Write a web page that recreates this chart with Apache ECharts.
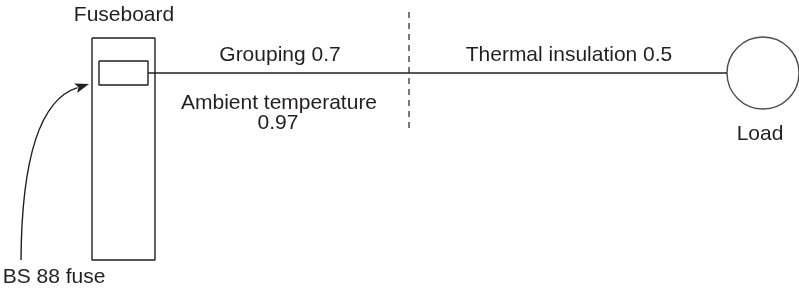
<!DOCTYPE html>
<html>
<head>
<meta charset="utf-8">
<script src="https://cdn.jsdelivr.net/npm/echarts@6/dist/echarts.min.js"></script>
<style>
  html, body { margin: 0; padding: 0; background: #fff; }
  #main { width: 799px; height: 290px; }
</style>
</head>
<body>
<div id="main"></div>
<script>
// diagram geometry, in page units (x right, y down)
var boardOutline = [[92, 38], [155, 38], [155, 260], [92, 260], [92, 38]];
var fuseOutline = [[99, 61], [148, 61], [148, 85], [99, 85], [99, 61]];
var cableLine = [[148, 73], [727, 73]];
var dividerLine = [[409, 12], [409, 133]];
var loadCentre = [[763, 73]];
var loadDiameter = 72;
var arrowCurve = [[21, 260], [22, 105], [89, 84]]; // start, control, tip

var labelTexts = ['Fuseboard', 'Grouping 0.7', 'Ambient temperature', '0.97',
    'Thermal insulation 0.5', 'Load', 'BS 88 fuse'];
var labelPos = [[124, 15], [280, 55], [279, 103], [278, 123], [569, 55], [760, 134], [54, 277]];

var ink = '#231f20';

build();

function build() {
    var myChart = echarts.init(document.getElementById('main'));

    var option = {
        animation: false,
        grid: { left: 0, right: 0, top: 0, bottom: 0 },
        xAxis: { type: 'value', min: 0, max: 799, show: false },
        yAxis: { type: 'value', min: 0, max: 290, inverse: true, show: false },
        series: [
            {
                type: 'line', data: boardOutline, symbol: 'none',
                lineStyle: { color: ink, width: 1.4 }
            },
            {
                type: 'line', data: fuseOutline, symbol: 'none',
                lineStyle: { color: ink, width: 1.4 }
            },
            {
                type: 'line', data: cableLine, symbol: 'none',
                lineStyle: { color: ink, width: 1.4 }
            },
            {
                type: 'line', data: dividerLine, symbol: 'none',
                lineStyle: { color: ink, width: 1.2, type: [6, 5] }
            },
            {
                type: 'scatter', data: loadCentre, symbol: 'circle', symbolSize: loadDiameter,
                itemStyle: { color: 'rgba(0,0,0,0)', borderColor: ink, borderWidth: 1.4 }
            },
            {
                // curved pointer from the fuse label to the board
                type: 'custom',
                data: [0],
                renderItem: function (params, api) {
                    var p0 = api.coord(arrowCurve[0]);
                    var c = api.coord(arrowCurve[1]);
                    var p1 = api.coord(arrowCurve[2]);
                    var dx = p1[0] - c[0], dy = p1[1] - c[1];
                    var len = Math.sqrt(dx * dx + dy * dy);
                    var ux = dx / len, uy = dy / len;
                    var hl = 14, hw = 5;
                    var bx = p1[0] - ux * hl, by = p1[1] - uy * hl;
                    return {
                        type: 'group',
                        children: [
                            {
                                type: 'bezierCurve',
                                shape: { x1: p0[0], y1: p0[1], cpx1: c[0], cpy1: c[1], x2: bx + ux * 2, y2: by + uy * 2 },
                                style: { stroke: ink, lineWidth: 1.4, fill: null }
                            },
                            {
                                type: 'polygon',
                                shape: { points: [p1, [bx - uy * hw, by + ux * hw], [bx + ux * 3, by + uy * 3], [bx + uy * hw, by - ux * hw]] },
                                style: { fill: ink }
                            }
                        ]
                    };
                }
            },
            {
                type: 'custom',
                data: labelPos,
                renderItem: function (params, api) {
                    var p = api.coord([api.value(0), api.value(1)]);
                    return {
                        type: 'text',
                        x: p[0], y: p[1],
                        style: {
                            text: labelTexts[params.dataIndex],
                            fill: ink,
                            font: '21px "Liberation Sans", Arial, sans-serif',
                            align: 'center',
                            verticalAlign: 'middle'
                        }
                    };
                }
            }
        ]
    };

    myChart.setOption(option);
}
</script>
</body>
</html>
